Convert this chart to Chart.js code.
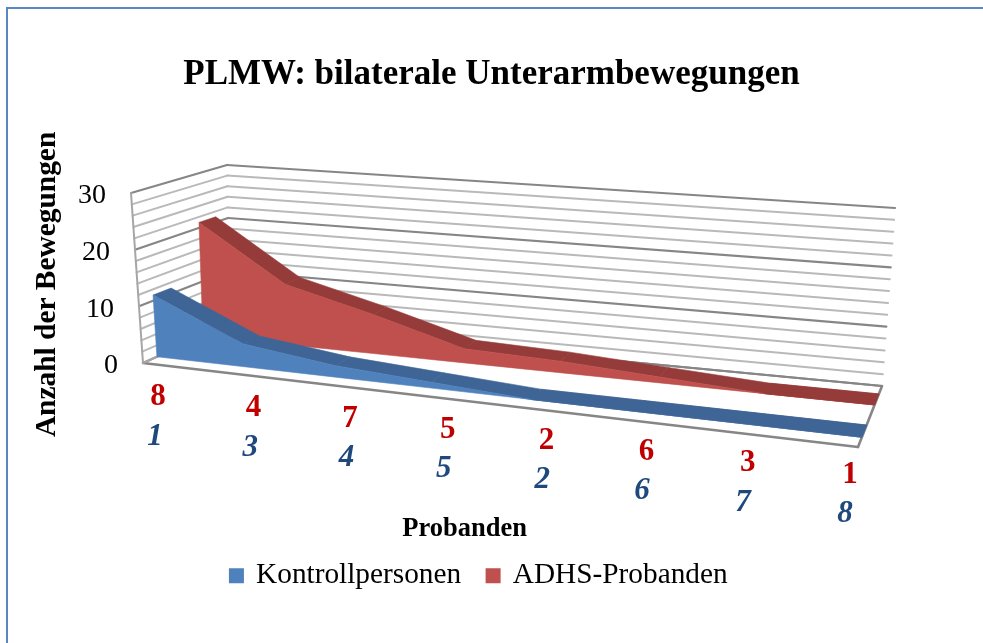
<!DOCTYPE html>
<html><head><meta charset="utf-8">
<style>
html,body{margin:0;padding:0;background:#fff;overflow:hidden}
#frame{position:absolute;left:6px;top:7px;right:0;bottom:0;border-left:2px solid #5b87bf;border-top:2px solid #5b87bf}
#wrap{position:absolute;left:0;top:0;width:983px;height:643px}
</style>
<script src="https://cdn.jsdelivr.net/npm/chart.js@4"></script>
</head><body>
<div id="frame"></div>
<div id="wrap"><canvas id="c" width="983" height="643"></canvas></div>
<script>
// ---- data ----
const categories = ['1','2','3','4','5','6','7','8'];
const kontrollLabels = ['1','3','4','5','2','6','7','8'];
const adhsLabels = ['8','4','7','5','2','6','3','1'];
const kontrollValues = [11,4,2,1,0,0,0,0];
const adhsValues = [21,11,7,2.5,2,1,0,0];
const yMax = 30, yMinorStep = 2, yMajorStep = 10;
const chartTitle = 'PLMW: bilaterale Unterarmbewegungen';
const yTitle = 'Anzahl der Bewegungen';
const xTitle = 'Probanden';
const kontrollName = 'Kontrollpersonen';
const adhsName = 'ADHS-Probanden';

// ---- 3D box of the chart (screen corners): F/B front/back, L/R, B/T ----
const box = {
  FLB:[143,363], FLT:[131,193], BLB:[230,324], BLT:[227,165],
  FRB:[858,447], FRT:[872,257], BRB:[882,386], BRT:[895,208]
};
const PERSP = 0.15, LABEL_PERSP = 0.04;
const warpBy = (u,b) => u*(1-b)/(1-b*u);
const warp = u => warpBy(u,PERSP);
const mix = (a,b,t) => [a[0]+(b[0]-a[0])*t, a[1]+(b[1]-a[1])*t];
function project(u,v,t){
  const w = warp(u);
  const fb = mix(mix(box.FLB,box.FRB,w), mix(box.FLT,box.FRT,w), v);
  const bk = mix(mix(box.BLB,box.BRB,w), mix(box.BLT,box.BRT,w), v);
  return mix(fb,bk,t);
}
function norm(chart,xPx,yPx){
  const a = chart.chartArea;
  return [(xPx-a.left)/(a.right-a.left), (a.bottom-yPx)/(a.bottom-a.top)];
}
function poly(ctx,pts,color){
  ctx.beginPath();
  pts.forEach((p,i)=> i?ctx.lineTo(p[0],p[1]):ctx.moveTo(p[0],p[1]));
  ctx.closePath();
  ctx.fillStyle=color; ctx.fill();
  ctx.strokeStyle=color; ctx.lineWidth=0.6; ctx.stroke();
}

// ---- extruded 3D area dataset type, fed by the chart's own scales ----
class Area3DController extends Chart.LineController {
  draw(){
    const chart=this.chart, ctx=chart.ctx, ds=this.getDataset(), meta=this.getMeta();
    const xs=meta.xScale, ys=meta.yScale;
    const tf=ds.depthFront, tb=ds.depthBack;
    const nodes=ds.data.map((val,i)=>norm(chart,xs.getPixelForValue(i),ys.getPixelForValue(val)));
    const zero=norm(chart,xs.getPixelForValue(0),ys.getPixelForValue(0))[1];
    ctx.save();
    const ribbon=i=>{
      const a=nodes[i], b=nodes[i+1];
      poly(ctx,[project(a[0],a[1],tf),project(b[0],b[1],tf),project(b[0],b[1],tb),project(a[0],a[1],tb)],ds.topColor);
    };
    for(let i=0;i<nodes.length-1;i++) ribbon(i);
    const front=nodes.map(n=>project(n[0],n[1],tf));
    const base=nodes.map(n=>project(n[0],zero,tf)).reverse();
    poly(ctx,front.concat(base),ds.backgroundColor);
    // the zero-height part of the top stays visible above the flat front edge
    for(let i=0;i<nodes.length-1;i++){
      if(ds.data[i]===0 && ds.data[i+1]===0) ribbon(i);
    }
    ctx.restore();
  }
}
Area3DController.id='area3d';
Chart.register(Area3DController);

const wallsPlugin={
  id:'walls',
  afterLayout(chart){
    // place the axis title and the legend where the reference has them
    chart.scales.x.right=821;
    const lg=chart.legend; lg.left-=12; lg.right-=12; lg.top=534;
  },
  beforeDatasetsDraw(chart){
    const ctx=chart.ctx, y=chart.scales.y;
    ctx.save(); ctx.lineCap='round';
    const line=(a,b,c,w)=>{ctx.beginPath();ctx.moveTo(a[0],a[1]);ctx.lineTo(b[0],b[1]);ctx.strokeStyle=c;ctx.lineWidth=w;ctx.stroke();};
    poly(ctx,[box.FLB,box.FRB,box.BRB,box.BLB],'#ffffff');
    y.ticks.forEach(t=>{
      const v=norm(chart,0,y.getPixelForValue(t.value))[1];
      const major=t.value%yMajorStep===0;
      const c=major?'#868686':'#b9b9b9', w=major?2.2:2;
      const p0=project(0,v,0), p1=project(0,v,1), p2=project(1,v,1);
      line(p0,p1,c,w); line(p1,p2,c,w);
    });
    line(box.FLB,box.FLT,'#a6a6a6',2);
    line(box.BLB,box.BRB,'#868686',2.2);
    line(box.FLB,box.FRB,'#868686',2.6);
    line(box.FRB,box.BRB,'#868686',2.6);
    line(box.FLB,box.BLB,'#a6a6a6',2);
    ctx.restore();
  },
  afterDraw(chart){
    const ctx=chart.ctx, y=chart.scales.y, x=chart.scales.x;
    ctx.save();
    ctx.fillStyle='#000'; ctx.textAlign='right'; ctx.textBaseline='middle';
    ctx.font='28px "Liberation Serif"';
    y.ticks.forEach(t=>{
      if(t.value%yMajorStep!==0) return;
      const v=norm(chart,0,y.getPixelForValue(t.value))[1];
      const p=project(0,v,0);
      ctx.fillText(String(t.value),p[0]-25,p[1]+3);
    });
    const row=(labels,color,style,dx0,dy0,dx1,dy1)=>{
      ctx.fillStyle=color; ctx.textAlign='center'; ctx.textBaseline='middle';
      ctx.font=style+' 31px "Liberation Serif"';
      labels.forEach((s,i)=>{
        const u=warpBy(norm(chart,x.getPixelForValue(i),0)[0],LABEL_PERSP);
        const p=mix(box.FLB,box.FRB,u);
        ctx.fillText(s,p[0]+dx0+(dx1-dx0)*u,p[1]+dy0+(dy1-dy0)*u);
      });
    };
    row(adhsLabels,'#c00000','bold',15,34,-8,28);
    row(kontrollLabels,'#1f497d','italic bold',12,74,-13,67);
    ctx.restore();
  }
};

new Chart(document.getElementById('c'),{
  type:'area3d',
  data:{labels:categories,datasets:[
    {label:kontrollName,data:kontrollValues,backgroundColor:'#4f81bd',borderColor:'#4f81bd',borderWidth:5,topColor:'#3e6596',depthFront:0.16,depthBack:0.36,order:1,clip:false},
    {label:adhsName,data:adhsValues,backgroundColor:'#c0504d',borderColor:'#c0504d',borderWidth:5,topColor:'#953b39',depthFront:0.69,depthBack:0.87,order:2,clip:false}
  ]},
  plugins:[wallsPlugin],
  options:{
    responsive:false,animation:false,
    layout:{padding:{left:0,right:0,top:0,bottom:4}},
    plugins:{
      title:{display:true,text:chartTitle,color:'#000',font:{family:'"Liberation Serif"',size:35,weight:'bold',lineHeight:1.2},padding:{top:54,bottom:109}},
      legend:{position:'bottom',labels:{color:'#000',font:{family:'"Liberation Serif"',size:29.3},boxWidth:10,boxHeight:10,padding:27}},
      tooltip:{enabled:false}
    },
    scales:{
      x:{type:'category',offset:false,grid:{display:false},border:{display:false},ticks:{display:false},
         title:{display:true,text:xTitle,color:'#000',font:{family:'"Liberation Serif"',size:26.5,weight:'bold',lineHeight:1.2},padding:{top:141,bottom:28}}},
      y:{type:'linear',min:0,max:yMax,grid:{display:false},border:{display:false},ticks:{display:false,stepSize:yMinorStep},
         title:{display:true,text:yTitle,color:'#000',font:{family:'"Liberation Serif"',size:29.4,weight:'bold',lineHeight:1.2},padding:{top:30,bottom:35}}}
    }
  }
});
</script>
</body></html>
